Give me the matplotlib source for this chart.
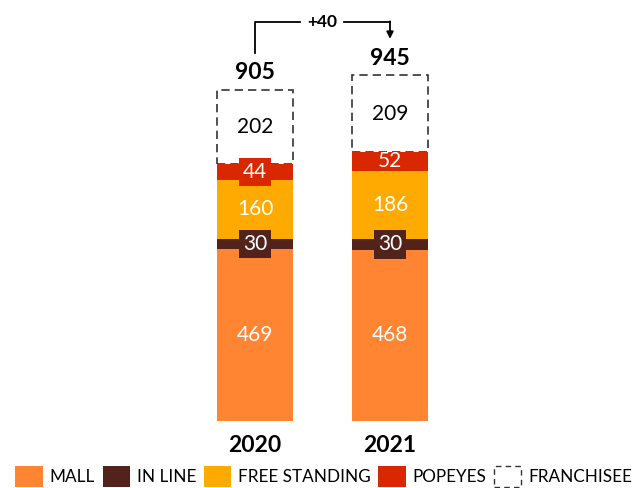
import numpy as np
import matplotlib.pyplot as plt
from matplotlib.patches import Patch

# data
years = ["2020", "2021"]
mall = [469, 468]
in_line = [30, 30]
free_standing = [160, 186]
popeyes = [44, 52]
franchisee = [202, 209]
series_names = ["MALL", "IN LINE", "FREE STANDING", "POPEYES", "FRANCHISEE"]

colors = ["#FF8533", "#52231A", "#FFAA00", "#D92800", "white"]

plt.rcParams["font.family"] = ["Lato", "DejaVu Sans"]

fig = plt.figure(figsize=(6.41, 4.88), dpi=100)
ax = fig.add_axes([120 / 641, 67 / 488, 405 / 641, 421 / 488])
ax.set_xlim(-1.0, 2.0)
ax.set_ylim(0, 421 / 0.3657)

x = np.arange(len(years))
w = 0.556
layers = [mall, in_line, free_standing, popeyes, franchisee]
bottom = np.zeros(len(years))
for i, vals in enumerate(layers):
    vals = np.array(vals)
    if series_names[i] == "FRANCHISEE":
        ax.bar(x, vals, w, bottom=bottom, facecolor="white", edgecolor="#333333",
               linestyle=(0, (5, 3)), linewidth=1.2, zorder=1)
    else:
        ax.bar(x, vals, w, bottom=bottom, color=colors[i], zorder=2)
    for j in range(len(years)):
        yc = bottom[j] + vals[j] / 2
        txt = str(vals[j])
        if series_names[i] == "FRANCHISEE":
            ax.text(x[j], yc, txt, ha="center", va="center", fontsize=15, color="black", zorder=5)
        elif vals[j] < 50:
            ax.text(x[j], yc, txt, ha="center", va="center", fontsize=15, color="white", zorder=5,
                    bbox=dict(boxstyle="square,pad=0.2", facecolor=colors[i], edgecolor="none"))
        else:
            ax.text(x[j], yc, txt, ha="center", va="center", fontsize=15, color="white", zorder=5)
    bottom = bottom + vals

totals = bottom
for j in range(len(years)):
    ax.text(x[j], totals[j] + 18, f"{int(totals[j])}", ha="center", va="bottom",
            fontsize=16.5, fontweight="bold")

# change bracket
diff = int(totals[1] - totals[0])
top_y = totals.max() + 146
ax.plot([x[0], x[0], 0.33], [totals[0] + 100, top_y, top_y], color="black", lw=1.3)
ax.plot([0.66, x[1]], [top_y, top_y], color="black", lw=1.3)
ax.annotate("", xy=(x[1], totals[1] + 100), xytext=(x[1], top_y + 2),
            arrowprops=dict(arrowstyle="-|>", color="black", lw=1.3, mutation_scale=10,
                            shrinkA=0, shrinkB=0))
ax.text(0.495, top_y, f"+{diff}", ha="center", va="center", fontsize=12.5, fontweight="bold")

ax.set_xticks(x, years, fontsize=16.5, fontweight="bold")
ax.tick_params(axis="x", length=0, pad=10)
ax.set_yticks([])
for s in ax.spines.values():
    s.set_visible(False)

handles = [Patch(facecolor=colors[k], edgecolor="none") for k in range(4)]
handles.append(Patch(facecolor="white", edgecolor="#333333", linestyle=(0, (4, 3)), linewidth=1.0))
fig.legend(handles, series_names, loc="lower center", bbox_to_anchor=(0.505, -0.03), ncol=5,
           frameon=False, fontsize=12.3, handlelength=1.6, handleheight=1.5,
           handletextpad=0.4, columnspacing=0.45)

fig.savefig("out.png", dpi=100)
